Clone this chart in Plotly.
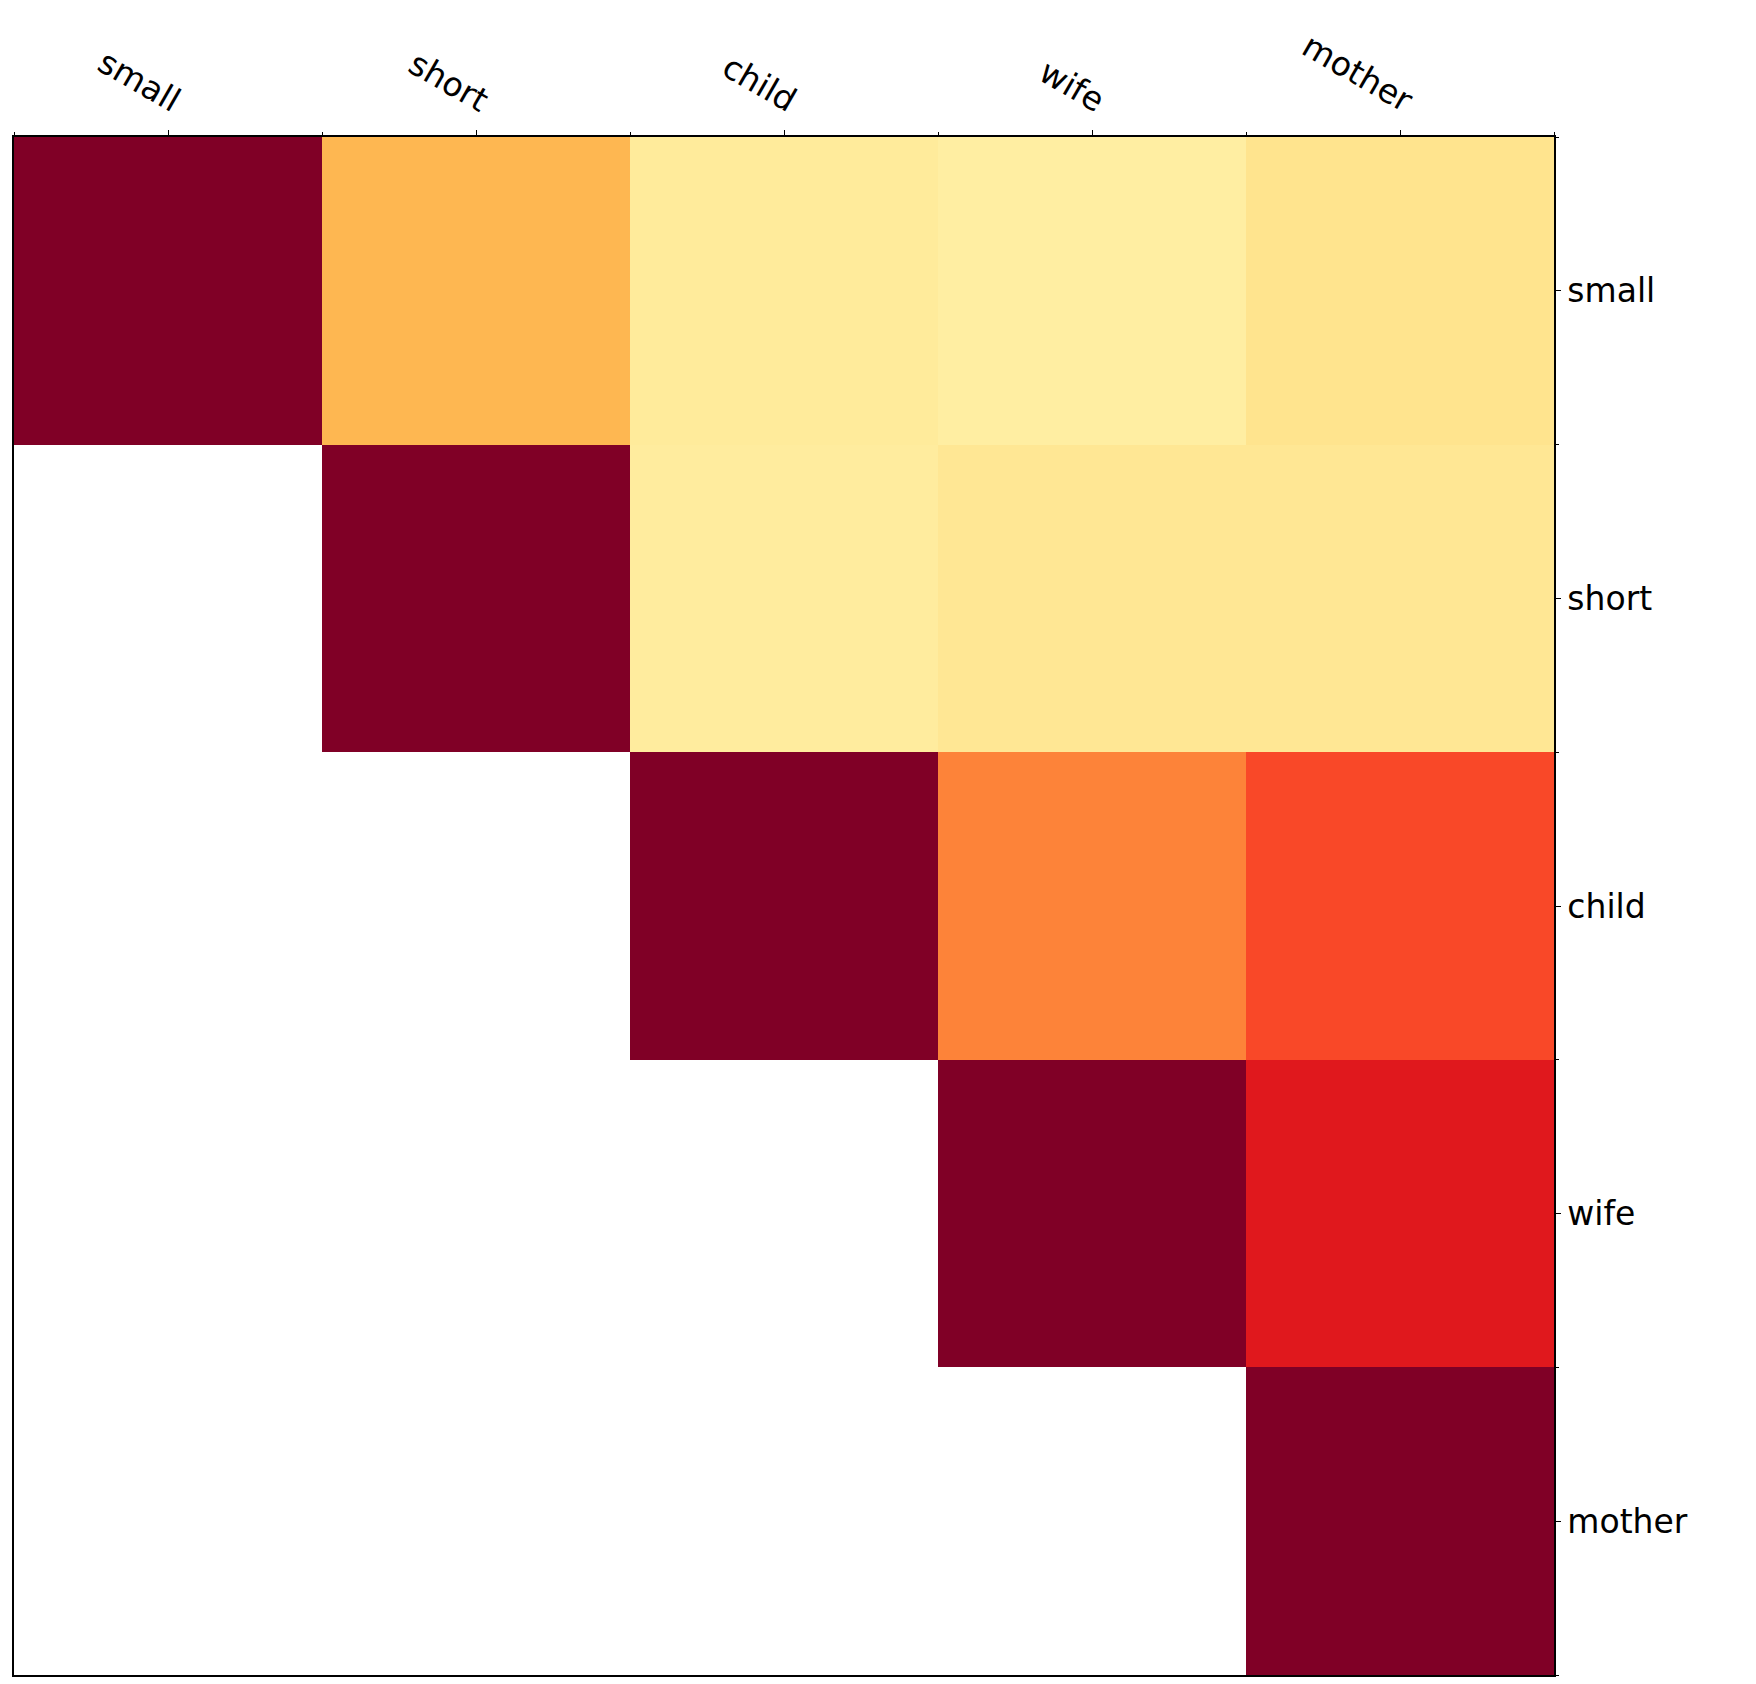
import plotly.graph_objects as go

words = ["small", "short", "child", "wife", "mother"]

row_small = [1.00, 0.36, 0.14, 0.12, 0.18]
row_short = [None, 1.00, 0.13, 0.16, 0.16]
row_child = [None, None, 1.00, 0.52, 0.64]
row_wife = [None, None, None, 1.00, 0.76]
row_mother = [None, None, None, None, 1.00]

z = [row_small, row_short, row_child, row_wife, row_mother]

ylorrd = ['#ffffcc', '#ffeda0', '#fed976', '#feb24c', '#fd8d3c',
          '#fc4e2a', '#e31a1c', '#bd0026', '#800026']
colorscale = [[i / (len(ylorrd) - 1), c] for i, c in enumerate(ylorrd)]

idx = list(range(len(words)))
edges = [i - 0.5 for i in range(len(words) + 1)]

fig = go.Figure(go.Heatmap(
    z=z, x=idx, y=idx, colorscale=colorscale, zmin=0, zmax=1,
    showscale=False, hoverongaps=False,
))

font = dict(family="DejaVu Sans", size=33, color="black")

fig.update_layout(
    width=1756, height=1684, autosize=False,
    margin=dict(l=14, r=202, t=137, b=7),
    paper_bgcolor="white", plot_bgcolor="white",
    font=font,
    xaxis=dict(
        side="top", range=[-0.5, len(words) - 0.5],
        tickmode="array", tickvals=idx, ticktext=words, tickangle=30,
        ticks="outside", ticklen=5, tickcolor="black", tickwidth=1,
        ticklabelshift=12, ticklabelstandoff=2,
        showline=True, linecolor="black", linewidth=1.5, mirror=True,
        showgrid=False, zeroline=False, tickfont=font,
        minor=dict(tickmode="array", tickvals=edges, ticks="outside",
                   ticklen=3, tickcolor="black", showgrid=False),
    ),
    yaxis=dict(
        side="right", range=[len(words) - 0.5, -0.5],
        tickmode="array", tickvals=idx, ticktext=words,
        ticks="outside", ticklen=5, tickcolor="black", tickwidth=1,
        showline=True, linecolor="black", linewidth=1.5, mirror=True,
        showgrid=False, zeroline=False, tickfont=font,
        minor=dict(tickmode="array", tickvals=edges, ticks="outside",
                   ticklen=3, tickcolor="black", showgrid=False),
    ),
)

fig.write_html("out.html")
